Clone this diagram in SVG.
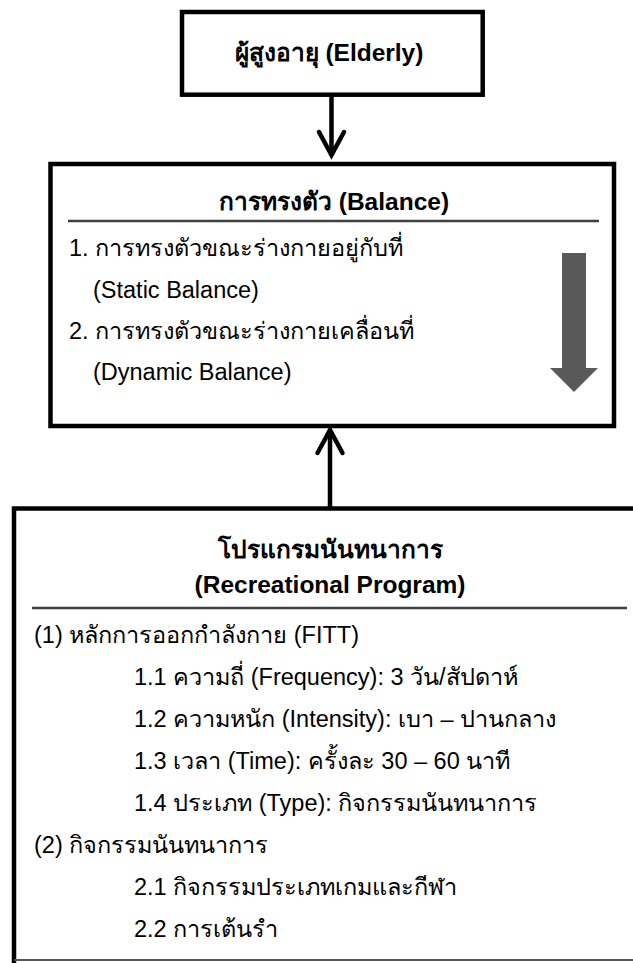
<svg xmlns="http://www.w3.org/2000/svg" width="633" height="963" viewBox="0 0 633 963">
<style>
.box{fill:#fff;stroke:#000;stroke-width:4.5}
.sep{stroke:#404040;stroke-width:2.5;fill:none}
.t{font-family:"Liberation Sans","Noto Sans",sans-serif;font-size:23.5px;fill:#000}
.b{font-weight:bold;font-size:24.5px}
.c{text-anchor:middle}
.conn{stroke:#000;stroke-width:4.5;fill:none}
</style>
<defs>
<marker id="chev" markerUnits="userSpaceOnUse" viewBox="-30 -20 40 40" markerWidth="40" markerHeight="40" refX="0" refY="0" orient="auto" overflow="visible">
<path d="M-23,-12.5 L0,0 L-23,12.5" fill="none" stroke="#000" stroke-width="4.5" stroke-linecap="round" stroke-linejoin="miter"/>
</marker>
</defs>
<g id="elderly">
<rect class="box" x="182" y="12" width="300.7" height="82.7"/>
<text class="t b c" x="329" y="61">ผู้สูงอายุ (Elderly)</text>
</g>
<g id="balance">
<rect class="box" x="50.5" y="164" width="563.5" height="262"/>
<text class="t b c" x="334" y="210">การทรงตัว (Balance)</text>
<line class="sep" x1="68" y1="221" x2="599" y2="221"/>
<text class="t" x="69" y="256">1. การทรงตัวขณะร่างกายอยู่กับที่</text>
<text class="t" x="93" y="298">(Static Balance)</text>
<text class="t" x="69" y="339">2. การทรงตัวขณะร่างกายเคลื่อนที่</text>
<text class="t" x="93" y="380">(Dynamic Balance)</text>
<polygon points="562,253 586,253 586,368 598,368 574,392 550,368 562,368" fill="#595959"/>
</g>
<g id="program">
<path d="M14,963 L14,508.5 L640,508.5" fill="none" stroke="#000" stroke-width="4.5"/>
<line x1="14" y1="960" x2="633" y2="960" stroke="#555" stroke-width="2"/>
<text class="t b c" x="330" y="558">โปรแกรมนันทนาการ</text>
<text class="t b c" x="330" y="593">(Recreational Program)</text>
<line class="sep" x1="32" y1="608" x2="627" y2="608"/>
<text class="t" x="34" y="643">(1) หลักการออกกำลังกาย (FITT)</text>
<text class="t" x="134" y="685">1.1 ความถี่ (Frequency): 3 วัน/สัปดาห์</text>
<text class="t" x="134" y="727">1.2 ความหนัก (Intensity): เบา – ปานกลาง</text>
<text class="t" x="134" y="769">1.3 เวลา (Time): ครั้งละ 30 – 60 นาที</text>
<text class="t" x="134" y="811">1.4 ประเภท (Type): กิจกรรมนันทนาการ</text>
<text class="t" x="34" y="853">(2) กิจกรรมนันทนาการ</text>
<text class="t" x="134" y="895">2.1 กิจกรรมประเภทเกมและกีฬา</text>
<text class="t" x="134" y="937">2.2 การเต้นรำ</text>
</g>
<g id="connectors">
<line class="conn" x1="331.5" y1="95" x2="331.5" y2="155" marker-end="url(#chev)"/>
<line class="conn" x1="330" y1="508" x2="330" y2="430" marker-end="url(#chev)"/>
</g>
</svg>
